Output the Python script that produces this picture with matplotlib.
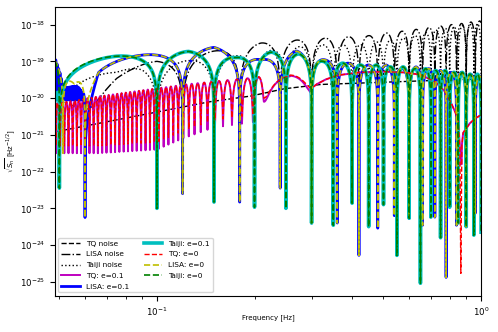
import numpy as np
import matplotlib
matplotlib.use("Agg")
import matplotlib.pyplot as plt
from matplotlib.ticker import NullLocator

# plotted frequency range [Hz]
f_lo, f_hi = 0.0484, 1.0

# all levels below are log10 of sqrt(S_n)

# ---- TQ noise ----
tq_noise_f = [0.0484, 0.0667, 0.1427, 0.1936, 0.245, 0.318, 0.5625, 1.0]
tq_noise_v = [-20.92, -20.68, -20.11, -19.95, -19.75, -19.63, -19.55, -19.48]

# ---- LISA noise ----
lisa_noise_nulls = [0.03, 0.06, 0.12, 0.18, 0.24, 0.30, 0.36, 0.42, 0.48, 0.54,
                    0.60, 0.66, 0.72, 0.78, 0.84, 0.90, 0.96, 1.02]
lisa_noise_depth = [-20.3] * 18
lisa_noise_env_f = [0.045, 0.075, 0.10, 0.15, 0.21, 0.27, 0.33, 0.39, 0.45, 0.51,
                    0.57, 0.63, 0.69, 0.75, 0.81, 0.87, 0.93, 0.99]
lisa_noise_env_v = [-20.6, -19.35, -18.95, -18.72, -18.5, -18.42, -18.37, -18.33, -18.3, -18.23,
                    -18.18, -18.13, -18.08, -18.04, -18.0, -17.97, -17.93, -17.9]

# ---- Taiji noise ----
taiji_noise_nulls = [0.025, 0.05, 0.10, 0.15, 0.20, 0.25, 0.30, 0.35, 0.40, 0.45, 0.50,
                     0.55, 0.60, 0.65, 0.70, 0.75, 0.80, 0.85, 0.90, 0.95, 1.00, 1.05]
taiji_noise_depth = [-20.3] * 22
taiji_noise_env_f = [0.04, 0.052, 0.075, 0.09, 0.125, 0.175, 0.225, 0.275, 0.325, 0.375, 0.425,
                     0.475, 0.525, 0.575, 0.625, 0.675, 0.725, 0.775, 0.825, 0.875, 0.925, 0.975, 1.03]
taiji_noise_env_v = [-20.6, -19.35, -19.3, -19.05, -18.98, -18.85, -18.7, -18.6, -18.55, -18.55, -18.55,
                     -18.47, -18.42, -18.37, -18.3, -18.22, -18.15, -18.1, -18.06, -18.03, -18.0, -17.98, -17.96]

# ---- LISA signal ----
lisa_nulls = [0.045, 0.0513, 0.06, 0.12, 0.18, 0.24, 0.30, 0.36, 0.42, 0.48, 0.54,
              0.60, 0.66, 0.72, 0.78, 0.84, 0.90, 0.96, 1.02]
lisa_depth = [-21.0, -21.5, -23.25, -22.6, -22.83, -22.45, -23.4, -23.4, -24.28, -23.54, -23.2,
              -23.27, -23.46, -23.24, -24.88, -23.46, -23.5, -23.13, -21.0]
lisa_env_f = [0.046, 0.0484, 0.0556, 0.066, 0.09, 0.15, 0.21, 0.27, 0.33, 0.39, 0.45,
              0.51, 0.57, 0.63, 0.69, 0.75, 0.81, 0.87, 0.93, 0.99]
lisa_env_v = [-18.95, -18.97, -19.62, -18.95, -18.83, -18.62, -18.96, -18.72, -18.96, -19.05, -19.1,
              -19.1, -19.2, -19.15, -19.2, -19.25, -19.3, -19.3, -19.35, -19.4]

# LISA e=0.1: dense wiggles below 0.06 Hz
blob_nulls = [0.0480, 0.0485, 0.0490, 0.0495, 0.0500, 0.0505, 0.0510, 0.0515, 0.0520, 0.0525,
              0.0530, 0.0535, 0.0540, 0.0545, 0.0550, 0.0555, 0.0560, 0.0565, 0.0570, 0.0575,
              0.0580, 0.0585, 0.0590]
blob_depth = [-20.05] * 23
blob_env_f = [0.0484, 0.0502, 0.0513, 0.0525, 0.055, 0.057, 0.058, 0.0594]
blob_env_v = [-18.88, -19.3, -19.65, -19.73, -19.7, -19.7, -19.78, -19.97]

# ---- Taiji signal ----
taiji_nulls = [0.045, 0.05, 0.10, 0.15, 0.20, 0.25, 0.30, 0.35, 0.40, 0.45, 0.50,
               0.55, 0.60, 0.65, 0.70, 0.75, 0.80, 0.85, 0.90, 0.95, 1.00, 1.05]
taiji_depth = [-21.0, -22.45, -23.0, -22.83, -22.97, -23.0, -23.4, -23.46, -22.86, -23.5, -22.9,
               -24.28, -23.27, -25.04, -23.24, -23.8, -22.97, -23.4, -23.5, -23.73, -23.65, -21.0]
taiji_env_f = [0.0475, 0.075, 0.125, 0.175, 0.225, 0.275, 0.325, 0.375, 0.425, 0.475, 0.525,
               0.575, 0.625, 0.675, 0.725, 0.775, 0.825, 0.875, 0.925, 0.975, 1.025]
taiji_env_v = [-18.95, -18.86, -18.73, -18.9, -18.75, -18.8, -19.0, -19.05, -19.1, -19.1, -19.15,
               -19.15, -19.2, -19.2, -19.25, -19.25, -19.3, -19.3, -19.35, -19.35, -19.4]
# e=0.1 stays low below 0.05 Hz
taiji1_left_f = [0.0475, 0.0505]
taiji1_left_v = [-20.5, -19.0]

# ---- TQ signal ----
tq_dips = [0.04879, 0.05026, 0.05178, 0.05335, 0.05496, 0.05663, 0.05834, 0.06011, 0.06193,
           0.06380, 0.06574, 0.06778, 0.06988, 0.07205, 0.07428, 0.07659, 0.07896, 0.08141,
           0.08394, 0.08661, 0.08937, 0.09222, 0.09515, 0.09824, 0.1014, 0.1049, 0.1085,
           0.1123, 0.1163, 0.1206, 0.1254, 0.1306, 0.1365, 0.1432, 0.1510, 0.1599, 0.1704,
           0.1829, 0.1978, 0.2139, 0.300]
tq_top_f = [0.0484, 0.0667, 0.085, 0.103, 0.125, 0.15, 0.18, 0.21, 0.257,
            0.30, 0.31, 0.33, 0.36, 0.42, 0.5, 0.58, 0.65, 0.72, 0.77, 0.8, 0.83,
            0.85, 0.86, 0.866, 0.872, 0.88, 0.92, 0.96, 1.0]
tq_top_v = [-20.15, -19.95, -19.82, -19.72, -19.62, -19.55, -19.48, -19.43, -19.42,
            -19.73, -19.63, -19.5, -19.38, -19.3, -19.28, -19.3, -19.36, -19.55, -19.8, -20.05, -20.35,
            -20.6, -21.3, -24.77, -21.3, -20.95, -20.7, -20.55, -20.46]
tq_depth_f = [0.048, 0.066, 0.10, 0.12, 0.15, 0.20, 0.2139, 0.30]
tq0_depth_v = [-21.3, -21.3, -21.2, -20.9, -20.6, -20.45, -20.0, -19.73]
tq1_depth_v = [-21.5, -21.5, -21.4, -21.1, -20.8, -20.65, -20.1, -19.85]
tq1_null_floor = -21.8


def interp_log(f, kf, kv):
    return np.interp(np.log10(f), np.log10(kf), kv)


def arches(f, nulls, depths, env_f, env_v, p):
    nulls = np.asarray(nulls)
    depths = np.asarray(depths)
    i = np.clip(np.searchsorted(nulls, f, side="right") - 1, 0, len(nulls) - 2)
    a, b = nulls[i], nulls[i + 1]
    ph = (f - a) / (b - a)
    s2 = np.sin(np.pi * ph) ** 2
    d = depths[np.where(ph < 0.5, i, i + 1)]
    top = interp_log(f, env_f, env_v)
    eps2 = 10 ** (2 * (d - top) / p)
    return 10 ** (top + 0.5 * p * np.log10(s2 + eps2))


def tq_curve(f, depth_v, floor=None):
    dips = np.asarray(tq_dips)
    depths = interp_log(dips, tq_depth_f, depth_v)
    out = 10 ** interp_log(f, tq_top_f, tq_top_v)
    inside = (f >= dips[0]) & (f <= dips[-1])
    centers = np.sqrt(dips[:-1] * dips[1:])
    out[inside] = arches(f[inside], dips, depths, centers, interp_log(centers, tq_top_f, tq_top_v), 1.0)
    if floor is not None:
        out = np.where(f > dips[-1], np.maximum(out, 10 ** floor), out)
    return out


allnulls = lisa_nulls + taiji_nulls + tq_dips + blob_nulls + [0.866]
f = np.union1d(np.geomspace(f_lo, f_hi, 9000),
               [x for x in allnulls if f_lo <= x <= f_hi])

fig = plt.figure(figsize=(4.98, 3.32), dpi=100)
ax = fig.add_axes([0.110, 0.108, 0.856, 0.871])

ax.loglog(f, 10 ** interp_log(f, tq_noise_f, tq_noise_v), "k--", lw=1.0, label="TQ noise")
ax.loglog(f, arches(f, lisa_noise_nulls, lisa_noise_depth, lisa_noise_env_f, lisa_noise_env_v, 0.8),
          "k-.", lw=1.0, label="LISA noise")
ax.loglog(f, arches(f, taiji_noise_nulls, taiji_noise_depth, taiji_noise_env_f, taiji_noise_env_v, 0.8),
          "k:", lw=1.0, label="Taiji noise")

ax.loglog(f, tq_curve(f, tq1_depth_v, tq1_null_floor), "m-", lw=1.4, label="TQ: e=0.1")
ax.loglog(f, arches(f, blob_nulls + lisa_nulls[2:], blob_depth + lisa_depth[2:],
                    blob_env_f + lisa_env_f[3:], blob_env_v + lisa_env_v[3:], 0.7),
          "b-", lw=2.0, label="LISA: e=0.1")
ax.loglog(f, arches(f, taiji_nulls, taiji_depth, taiji1_left_f + taiji_env_f[1:],
                    taiji1_left_v + taiji_env_v[1:], 0.7),
          "c-", lw=2.6, label="Taiji: e=0.1")

ax.loglog(f, tq_curve(f, tq0_depth_v), "r--", lw=1.0, label="TQ: e=0")
ax.loglog(f, arches(f, lisa_nulls, lisa_depth, lisa_env_f, lisa_env_v, 0.7),
          "y--", lw=1.2, label="LISA: e=0")
ax.loglog(f, arches(f, taiji_nulls, taiji_depth, taiji_env_f, taiji_env_v, 0.7),
          "g--", lw=1.2, label="Taiji: e=0")

ax.set_xlim(f_lo, f_hi)
ax.set_ylim(10 ** -25.39, 10 ** -17.52)
ax.set_yticks([1e-25, 1e-24, 1e-23, 1e-22, 1e-21, 1e-20, 1e-19, 1e-18])
ax.yaxis.set_minor_locator(NullLocator())
ax.set_xlabel("Frequency [Hz]", fontsize=5)
ax.set_ylabel(r"$\sqrt{S_n}$ [Hz$^{-1/2}$]", fontsize=5)
ax.xaxis.set_label_coords(0.5, -0.062)
ax.yaxis.set_label_coords(-0.088, 0.5)
ax.tick_params(labelsize=6.2)
ax.legend(loc="lower left", ncol=2, fontsize=5.3, handlelength=2.5, labelspacing=0.62)

fig.savefig("out.png", dpi=100)
